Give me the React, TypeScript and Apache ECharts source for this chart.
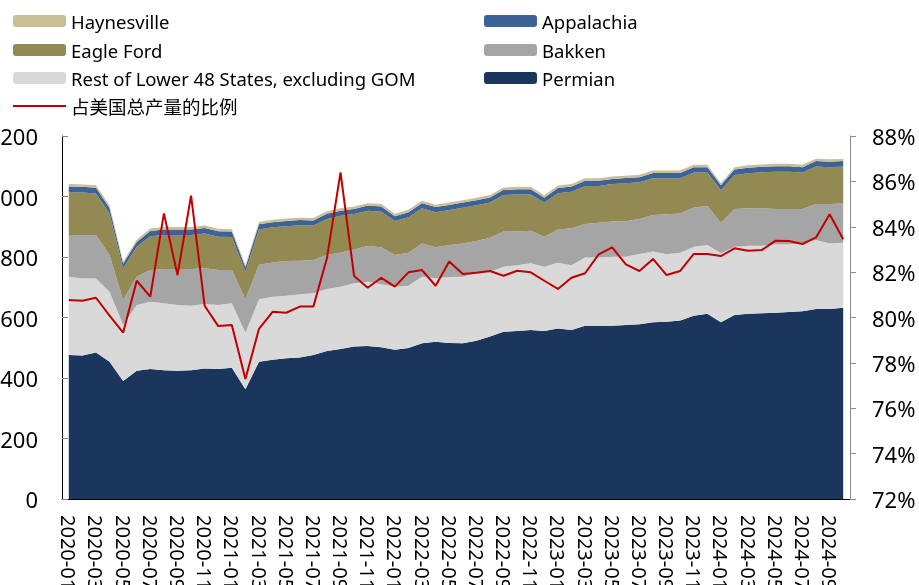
import React, { useEffect, useRef } from "react";
import * as echarts from "echarts";

const months = [
  "2020-01","2020-02","2020-03","2020-04","2020-05","2020-06","2020-07","2020-08","2020-09","2020-10","2020-11","2020-12",
  "2021-01","2021-02","2021-03","2021-04","2021-05","2021-06","2021-07","2021-08","2021-09","2021-10","2021-11","2021-12",
  "2022-01","2022-02","2022-03","2022-04","2022-05","2022-06","2022-07","2022-08","2022-09","2022-10","2022-11","2022-12",
  "2023-01","2023-02","2023-03","2023-04","2023-05","2023-06","2023-07","2023-08","2023-09","2023-10","2023-11","2023-12",
  "2024-01","2024-02","2024-03","2024-04","2024-05","2024-06","2024-07","2024-08","2024-09","2024-10",
];

const permian = [476,474,484,454,390,424,430,426,424,426,431,430,434,363,454,460,465,468,476,489,496,504,506,502,493,499,515,520,516,515,523,537,553,555,559,555,564,559,573,573,573,575,578,584,586,590,606,612,584,608,612,614,616,618,621,628,628,632];
const restL48 = [259,255,245,231,185,217,222,221,217,213,214,211,213,187,206,209,207,209,204,205,206,209,212,208,209,206,220,210,218,220,223,214,215,218,220,213,217,214,225,225,228,226,232,234,223,224,228,228,228,226,225,223,226,224,224,228,217,215];
const bakken = [138,144,144,122,83,94,105,113,119,121,118,116,110,110,114,113,115,111,110,113,113,112,118,122,105,109,110,102,106,110,107,113,116,111,108,99,110,122,111,115,116,117,116,121,132,130,130,129,101,125,124,124,117,117,114,119,130,130];
const eagleFord = [141,140,137,137,105,99,112,113,113,113,115,110,109,91,117,116,115,117,114,119,121,117,117,118,112,117,116,116,115,118,118,116,121,123,120,113,120,121,126,122,124,126,121,121,119,116,115,110,108,112,116,119,123,123,120,124,122,122];
const appalachia = [19,19,19,18,15,16,17,18,18,18,18,18,18,15,17,17,17,17,17,17,17,17,17,17,16,17,17,17,17,17,17,17,17,17,17,16,17,17,17,17,17,17,17,18,18,18,18,18,16,18,18,18,18,18,18,18,18,18];
const haynesville = [8,8,8,8,7,7,8,8,8,8,8,8,8,7,8,8,8,8,8,8,8,8,8,8,8,8,8,8,8,8,8,8,8,8,8,8,8,8,8,8,8,8,8,8,8,8,8,8,7,8,8,8,8,8,8,8,8,7];
const ratio = [80.77,80.74,80.87,80.08,79.33,81.62,80.92,84.59,81.87,85.37,80.52,79.62,79.67,77.29,79.5,80.25,80.21,80.48,80.48,82.61,86.4,81.83,81.31,81.75,81.36,81.99,82.09,81.4,82.47,81.92,81.97,82.05,81.84,82.06,81.99,81.62,81.26,81.75,81.95,82.78,83.09,82.34,82.05,82.58,81.87,82.05,82.8,82.8,82.71,83.05,82.94,82.97,83.38,83.37,83.24,83.53,84.55,83.45];

const NAME_H = "Haynesville";
const NAME_A = "Appalachia";
const NAME_E = "Eagle Ford";
const NAME_B = "Bakken";
const NAME_R = "Rest of Lower 48 States, excluding GOM";
const NAME_P = "Permian";
const NAME_L = "占美国总产量的比例";

const FONT = '"Noto Sans", "Noto Sans CJK SC", sans-serif';

export default function App() {
  const ref = useRef<HTMLDivElement>(null);
  useEffect(() => {
    const chart = echarts.init(ref.current!, null, { renderer: "svg" });
    const legendBase = {
      orient: "horizontal",
      padding: 0,
      itemGap: 0,
      itemWidth: 53,
      itemHeight: 12,
      selectedMode: false,
      icon: "roundRect",
      textStyle: { fontSize: 18.5, color: "#000", fontFamily: FONT, lineHeight: 20 },
    };
    const area = (name: string, data: number[], color: string) => ({
      name,
      type: "line",
      stack: "total",
      data,
      symbol: "none",
      showSymbol: false,
      lineStyle: { width: 0, color },
      itemStyle: { color },
      areaStyle: { color, opacity: 1 },
    });
    chart.setOption({
      animation: false,
      textStyle: { fontFamily: FONT },
      legend: [
        { ...legendBase, data: [NAME_H], left: 13, top: 11 },
        { ...legendBase, data: [NAME_E], left: 13, top: 40 },
        { ...legendBase, data: [NAME_R], left: 13, top: 68 },
        { ...legendBase, data: [{ name: NAME_L, icon: "rect" }], left: 13, top: 96, itemHeight: 2 },
        { ...legendBase, data: [NAME_A], left: 484, top: 11 },
        { ...legendBase, data: [NAME_B], left: 484, top: 40 },
        { ...legendBase, data: [NAME_P], left: 484, top: 68 },
      ],
      grid: { left: 62, right: 69, top: 136, bottom: 86, containLabel: false, outerBoundsMode: "none" },
      xAxis: {
        type: "category",
        data: months,
        boundaryGap: true,
        axisLine: { lineStyle: { color: "#000", width: 1 } },
        axisTick: { inside: true, length: 6, interval: 0, lineStyle: { color: "#000" } },
        axisLabel: { interval: 1, rotate: -90, margin: 16, fontSize: 20, color: "#000", fontFamily: FONT },
      },
      yAxis: [
        {
          type: "value",
          min: 0,
          max: 1200,
          interval: 200,
          axisLine: { show: true, lineStyle: { color: "#000" } },
          axisTick: { show: true, inside: true, length: 6, lineStyle: { color: "#808080" } },
          splitLine: { show: false },
          axisLabel: { margin: 24, fontSize: 22, color: "#000", fontFamily: FONT, formatter: (v: number) => String(v) },
        },
        {
          type: "value",
          min: 72,
          max: 88,
          interval: 2,
          position: "right",
          axisLine: { show: true, lineStyle: { color: "#8c8c8c" } },
          axisTick: { show: true, inside: false, length: 6, lineStyle: { color: "#8c8c8c" } },
          splitLine: { show: false },
          axisLabel: { margin: 22, fontSize: 22, color: "#000", fontFamily: FONT, formatter: "{value}%" },
        },
      ],
      series: [
        area(NAME_P, permian, "#1b365d"),
        area(NAME_R, restL48, "#d9d9d9"),
        area(NAME_B, bakken, "#a5a5a5"),
        area(NAME_E, eagleFord, "#938953"),
        area(NAME_A, appalachia, "#3c6298"),
        area(NAME_H, haynesville, "#c8bf97"),
        {
          name: NAME_L,
          type: "line",
          yAxisIndex: 1,
          data: ratio,
          symbol: "none",
          showSymbol: false,
          z: 10,
          lineStyle: { color: "#c00000", width: 2 },
          itemStyle: { color: "#c00000" },
        },
      ],
    });
    return () => chart.dispose();
  }, []);
  return <div ref={ref} style={{ position: "fixed", left: 0, top: 0, width: 919, height: 585 }} />;
}
